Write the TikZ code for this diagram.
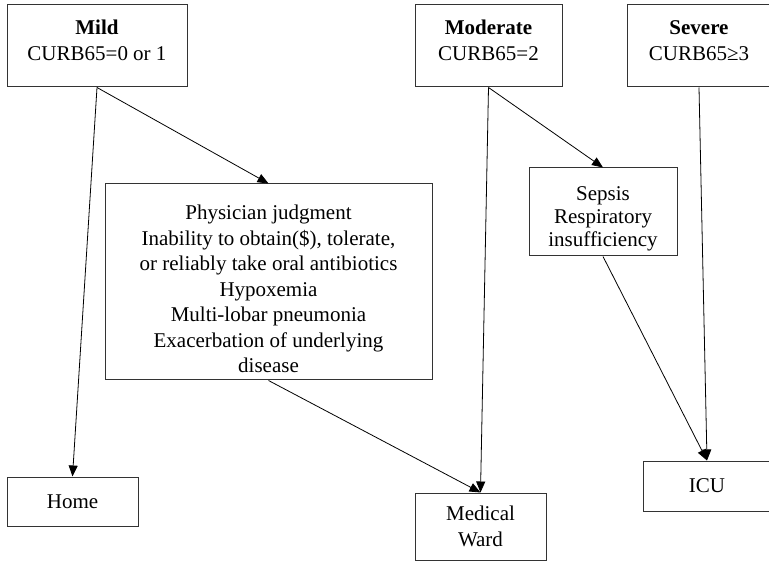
\documentclass[tikz,border=0pt]{standalone}
\usepackage{fontspec}
\setmainfont{Liberation Serif}
\usetikzlibrary{arrows.meta}
\newcommand{\downstrut}[1]{\rule{0pt}{#1}}
\newcommand{\upstrut}[1]{\rule[-#1]{0pt}{0pt}}
\begin{document}
\begin{tikzpicture}[x=1pt,y=-1pt,
  box/.style={draw=black!80,line width=1pt,inner sep=0pt,align=center,
    font=\fontsize{21}{25.5}\selectfont},
  arr/.style={line width=0.8pt,-{Triangle[length=11pt,width=9pt]}}]
\useasboundingbox (0,0) rectangle (769,561);
\node[box,minimum width=180pt,minimum height=82pt,font=\fontsize{21}{26}\selectfont] (mild) at (97,46) {\textbf{Mild}\\CURB65=0 or 1\upstrut{11pt}};
\node[box,minimum width=147pt,minimum height=82pt,font=\fontsize{21}{26}\selectfont] (moderate) at (488.5,46) {\textbf{Moderate}\\CURB65=2\upstrut{11pt}};
\node[box,minimum width=144pt,minimum height=82pt,font=\fontsize{21}{26}\selectfont] (severe) at (699,46) {\textbf{Severe}\\CURB65≥3\upstrut{11pt}};
\node[box,minimum width=327pt,minimum height=196pt] (phys) at (268.5,282) {\downstrut{29pt}Physician judgment\\Inability to obtain(\$), tolerate,\\or reliably take oral antibiotics\\Hypoxemia\\Multi-lobar pneumonia\\Exacerbation of underlying\\disease};
\node[box,minimum width=148pt,minimum height=88pt,font=\fontsize{21}{22.8}\selectfont] (sepsis) at (603,212) {\downstrut{27pt}Sepsis\\Respiratory\\insufficiency};
\node[box,minimum width=131pt,minimum height=49pt] (home) at (72.5,501.5) {Home};
\node[box,minimum width=131pt,minimum height=67pt] (ward) at (480.5,526.5) {Medical\\Ward};
\node[box,minimum width=128pt,minimum height=50pt] (icu) at (707,486) {ICU};
\draw[arr] (mild.south) -- (home.north);
\draw[arr] (mild.south) -- (phys.north);
\draw[arr] (phys.south) -- (ward.north);
\draw[arr] (moderate.south) -- (ward.north);
\draw[arr] (moderate.south) -- (sepsis.north);
\draw[arr] (severe.south) -- (icu.north);
\draw[arr] (sepsis.south) -- (icu.north);
\end{tikzpicture}
\end{document}
